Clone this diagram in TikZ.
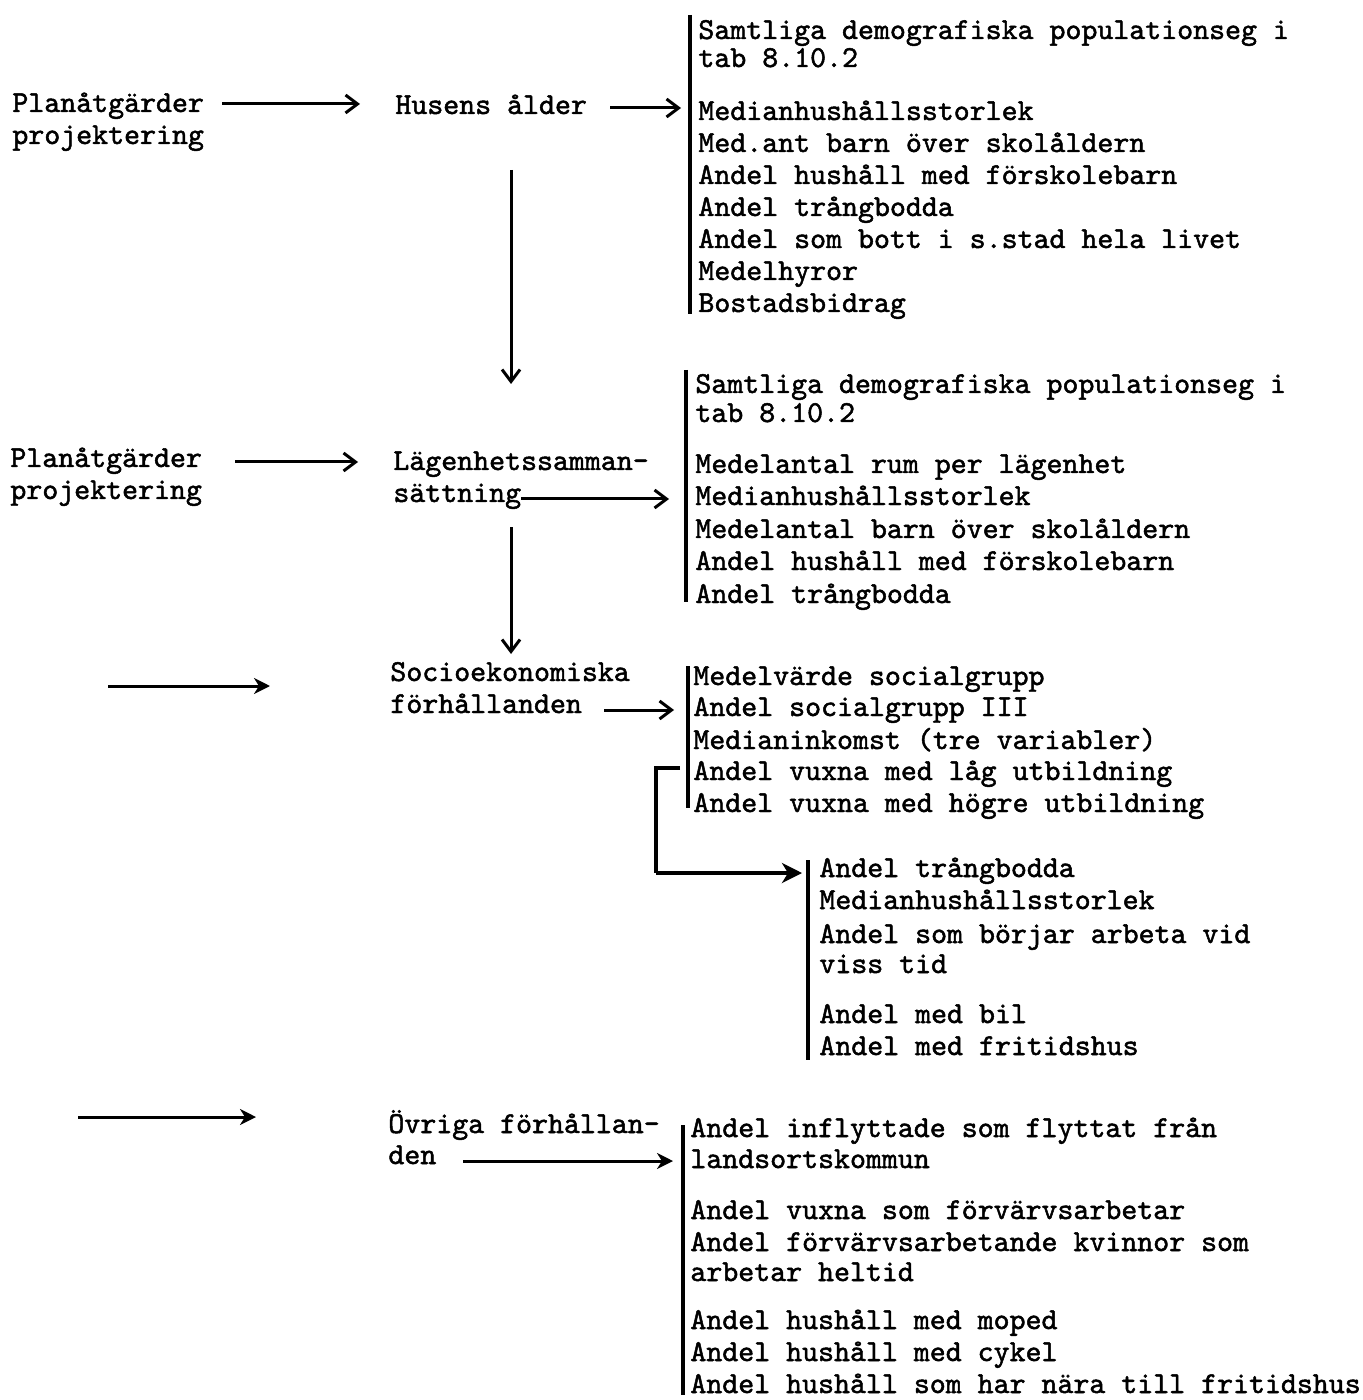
\documentclass[tikz,border=0pt]{standalone}
\usepackage{fontspec}
\usetikzlibrary{arrows.meta}
\font\tw="[lmmono10-regular.otf]:embolden=1.6" at 15.2pt
\begin{document}
\begin{tikzpicture}[x=0.5pt,y=-0.5pt,
  txt/.style={anchor=base west, inner sep=0pt, font=\tw},
  arr/.style={line width=1.5pt, -{Straight Barb[length=6pt,width=9pt]}},
  arrf/.style={line width=1.5pt, -{Stealth[length=8pt,width=8pt,inset=2.5pt]}},
  vbar/.style={line width=1.6pt},
  brk/.style={line width=2.2pt}]
\useasboundingbox (0,0) rectangle (1362,1400);
\fill[white] (0,0) rectangle (1362,1400);

% ---------- row 1
\node[txt] (pa1) at (12,112) {Planåtgärder};
\node[txt] (pb1) at (12,144) {projektering};
\node[txt] (hus) at (395,114) {Husens ålder};
\node[txt] (l1a) at (698,39) {Samtliga demografiska populationseg i};
\node[txt] (l1b) at (698,67) {tab 8.10.2};
\node[txt] (l1c) at (698,120) {Medianhushållsstorlek};
\node[txt] (l1d) at (698,152) {Med.ant barn över skolåldern};
\node[txt] (l1e) at (698,184) {Andel hushåll med förskolebarn};
\node[txt] (l1f) at (698,216) {Andel trångbodda};
\node[txt] (l1g) at (698,248) {Andel som bott i s.stad hela livet};
\node[txt] (l1h) at (698,280) {Medelhyror};
\node[txt] (l1i) at (698,312) {Bostadsbidrag};
\coordinate (b1t) at (690,15);
\coordinate (b1b) at (690,314);
\draw[vbar] (b1t) -- (b1b);
\coordinate (a1s) at (222,104);
\coordinate (a1e) at (360,104);
\draw[arr] (a1s) -- (a1e);
\coordinate (a2s) at (610,108);
\coordinate (a2e) at (681,108);
\draw[arr] (a2s) -- (a2e);
\coordinate (v1s) at (511,170);
\coordinate (v1e) at (511,384);
\draw[arr] (v1s) -- (v1e);

% ---------- row 2
\node[txt] (pa2) at (10,467) {Planåtgärder};
\node[txt] (pb2) at (10,499) {projektering};
\node[txt] (lag1) at (393,470) {Lägenhetssamman-};
\node[txt] (lag2) at (393,502) {sättning};
\node[txt] (l2a) at (695,393) {Samtliga demografiska populationseg i};
\node[txt] (l2b) at (695,422) {tab 8.10.2};
\node[txt] (l2c) at (695,473) {Medelantal rum per lägenhet};
\node[txt] (l2d) at (695,505) {Medianhushållsstorlek};
\node[txt] (l2e) at (695,538) {Medelantal barn över skolåldern};
\node[txt] (l2f) at (695,570) {Andel hushåll med förskolebarn};
\node[txt] (l2g) at (695,603) {Andel trångbodda};
\coordinate (b2t) at (686,370);
\coordinate (b2b) at (686,602);
\draw[vbar] (b2t) -- (b2b);
\coordinate (a3s) at (235,462);
\coordinate (a3e) at (358,462);
\draw[arr] (a3s) -- (a3e);
\coordinate (a4e) at (669,499);
\draw[arr] (lag2.east |- a4e) -- (a4e);
\coordinate (v2s) at (511,527);
\coordinate (v2e) at (511,654);
\draw[arr] (v2s) -- (v2e);

% ---------- row 3
\node[txt] (soc1) at (390,681) {Socioekonomiska};
\node[txt] (soc2) at (390,713) {förhållanden};
\node[txt] (l3a) at (693,685) {Medelvärde socialgrupp};
\node[txt] (l3b) at (693,716) {Andel socialgrupp III};
\node[txt] (l3c) at (693,749) {Medianinkomst (tre variabler)};
\node[txt] (l3d) at (693,780) {Andel vuxna med låg utbildning};
\node[txt] (l3e) at (693,812) {Andel vuxna med högre utbildning};
\coordinate (b3t) at (688,666);
\coordinate (b3b) at (688,808);
\draw[brk] (b3t) -- (b3b);
\coordinate (a5s) at (108,686);
\coordinate (a5e) at (270,686);
\draw[arrf] (a5s) -- (a5e);
\coordinate (a6s) at (604,710);
\coordinate (a6e) at (674,710);
\draw[arr] (a6s) -- (a6e);

% ---------- row 4
\node[txt] (l4a) at (819,877) {Andel trångbodda};
\node[txt] (l4b) at (819,909) {Medianhushållsstorlek};
\node[txt] (l4c) at (819,943) {Andel som börjar arbeta vid};
\node[txt] (l4d) at (819,973) {viss tid};
\node[txt] (l4e) at (819,1023) {Andel med bil};
\node[txt] (l4f) at (819,1055) {Andel med fritidshus};
\coordinate (b4t) at (808,860);
\coordinate (b4b) at (808,1060);
\draw[vbar] (b4t) -- (b4b);
\coordinate (k1) at (680,768);
\coordinate (k2) at (656,768);
\coordinate (k3) at (656,873);
\coordinate (k4) at (802,873);
\draw[brk] (k1) -- (k2) -- (k3);
\draw[brk, -{Stealth[length=10pt,width=10pt,inset=3pt]}] (k3) -- (k4);

% ---------- row 5
\node[txt] (ov1) at (388,1133) {Övriga förhållan-};
\node[txt] (ov2) at (388,1164) {den};
\node[txt] (l5a) at (690,1137) {Andel inflyttade som flyttat från};
\node[txt] (l5b) at (690,1168) {landsortskommun};
\node[txt] (l5c) at (690,1219) {Andel vuxna som förvärvsarbetar};
\node[txt] (l5d) at (690,1251) {Andel förvärvsarbetande kvinnor som};
\node[txt] (l5e) at (690,1281) {arbetar heltid};
\node[txt] (l5f) at (690,1329) {Andel hushåll med moped};
\node[txt] (l5g) at (690,1361) {Andel hushåll med cykel};
\node[txt] (l5h) at (690,1393) {Andel hushåll som har nära till fritidshus};
\coordinate (b5t) at (683,1125);
\coordinate (b5b) at (683,1395);
\draw[brk] (b5t) -- (b5b);
\coordinate (a7s) at (78,1117);
\coordinate (a7e) at (256,1117);
\draw[arrf] (a7s) -- (a7e);
\coordinate (a8s) at (463,1161);
\coordinate (a8e) at (673,1161);
\draw[arrf] (a8s) -- (a8e);
\end{tikzpicture}
\end{document}
